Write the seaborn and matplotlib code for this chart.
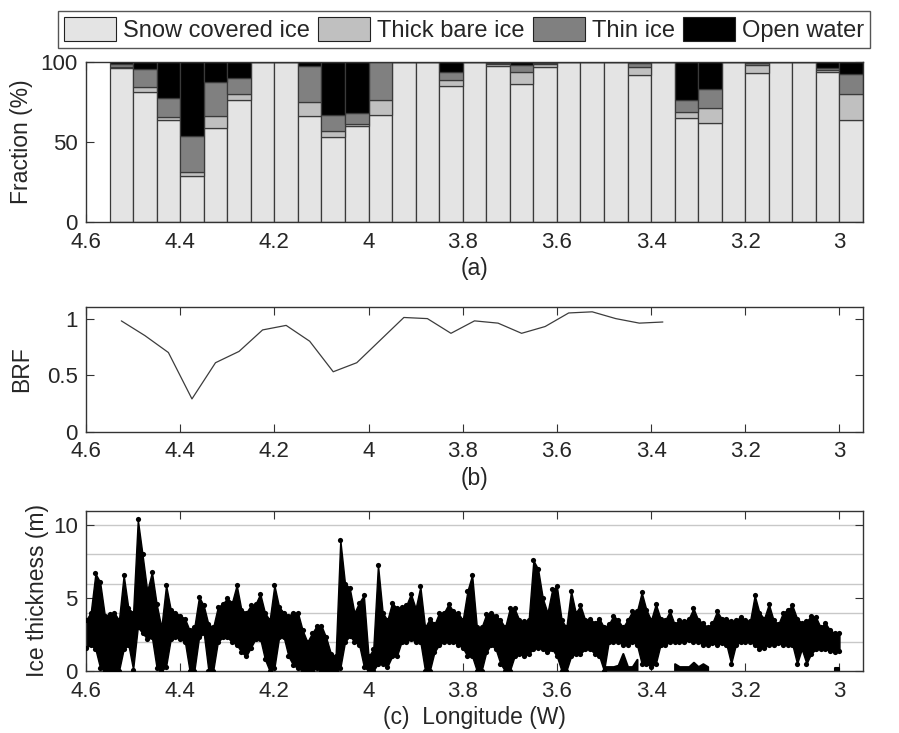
import numpy as np
import matplotlib
matplotlib.use("Agg")
import matplotlib.pyplot as plt
from matplotlib.patches import Patch
import seaborn as sns

# (a) surface type fraction (%) per 0.05 deg longitude bin
bar_lon = [4.525, 4.475, 4.425, 4.375, 4.325, 4.275, 4.225, 4.175,
           4.125, 4.075, 4.025, 3.975, 3.925, 3.875, 3.825, 3.775,
           3.725, 3.675, 3.625, 3.575, 3.525, 3.475, 3.425, 3.375,
           3.325, 3.275, 3.225, 3.175, 3.125, 3.075, 3.025, 2.975]
snow = [96, 81, 64, 29, 59, 76, 100, 100, 66, 53, 60, 67, 100, 100, 85, 100,
        97.5, 86, 97, 100, 100, 100, 92, 100, 65, 62, 100, 93, 100, 100, 94, 64]
thick = [1, 3.5, 1.5, 2, 7.5, 4, 0, 0, 9, 4, 1.5, 9, 0, 0, 3.5, 0,
         1, 7.5, 1.5, 0, 0, 0, 5, 0, 3.5, 9, 0, 5, 0, 0, 1, 16]
thin = [2, 11, 12, 23, 21, 10, 0, 0, 22.5, 10, 6.5, 24, 0, 0, 5.5, 0,
        1, 4.5, 1, 0, 0, 0, 2.5, 0, 8, 12, 0, 1.5, 0, 0, 1, 12.5]
water = [1, 4.5, 22.5, 46, 12.5, 10, 0, 0, 2.5, 33, 32, 0, 0, 0, 6, 0,
         0.5, 2, 0.5, 0, 0, 0, 0.5, 0, 23.5, 17, 0, 0.5, 0, 0, 4, 7.5]
classes = ["Snow covered ice", "Thick bare ice", "Thin ice", "Open water"]
class_colors = ["#e4e4e4", "#c0c0c0", "#808080", "#000000"]

# (b) BRF
brf_lon = bar_lon[:24]
brf = [0.98, 0.85, 0.70, 0.29, 0.61, 0.71, 0.90, 0.94, 0.80, 0.53, 0.61, 0.81,
       1.01, 1.00, 0.87, 0.98, 0.96, 0.87, 0.93, 1.05, 1.06, 1.00, 0.96, 0.97]

# (c) ice thickness band (upper / lower edge of point cloud), 0.01 deg steps 4.60 -> 3.00
ice_lon = np.round(np.arange(4.60, 2.995, -0.01), 2)
ice_hi = [3.5, 4.0, 6.7, 6.1, 3.8, 3.9, 4.0, 3.5, 6.6, 4.3, 4.0, 10.4, 8.0, 5.5, 6.8, 4.6,
          3.0, 5.9, 4.2, 4.0, 3.8, 3.6, 2.8, 3.0, 5.1, 4.5, 3.2, 3.0, 4.4, 4.6, 5.0, 4.7,
          5.9, 4.2, 4.0, 4.5, 4.6, 5.3, 4.0, 3.5, 5.9, 4.4, 4.0, 3.8, 4.0, 4.0, 2.8, 2.0,
          2.6, 3.1, 3.1, 2.3, 1.2, 1.0, 9.0, 6.0, 5.7,
          4.0, 4.7, 5.2, 1.0, 1.5, 7.3, 4.0, 3.5, 4.7, 4.3, 4.4, 4.5, 5.3, 4.3, 5.8, 3.0,
          3.6, 3.2, 4.0, 4.0, 4.6, 4.1, 4.0, 3.5, 5.5, 6.6, 3.0, 3.0, 3.9, 4.0, 3.8, 3.5,
          3.0, 4.3, 4.3, 3.5, 3.4, 3.5, 7.6, 7.0, 5.0, 4.0, 5.6, 5.8, 3.5, 3.0, 5.5, 4.0,
          4.5, 3.5, 3.6, 3.3, 3.6, 3.0, 3.2,
          3.8, 3.5, 3.0, 3.5, 4.1, 4.1, 5.4, 4.2, 3.5, 4.6, 3.6, 3.5, 4.1, 3.2, 3.5, 3.4,
          3.6, 4.3, 3.5, 3.3, 3.0, 3.3, 4.1, 3.6, 3.6, 3.4, 3.5, 3.7, 3.5, 3.4, 5.2, 4.0,
          3.6, 4.6, 3.5, 3.2, 4.0, 4.2, 4.5, 3.6, 3.3, 3.4, 3.8, 3.7, 3.0, 3.3, 2.8, 2.6, 2.6]
ice_lo = [1.6, 1.8, 1.5, 0.2, 0.0, 0.0, 0.0, 0.0, 1.5, 1.8, 0.1, 3.0, 2.6, 2.2, 2.3, 0.2,
          0.0, 0.3, 2.2, 2.3, 2.2, 2.0, 0.0, 0.0, 2.3, 2.6, 0.0, 0.0, 2.0, 2.3, 2.3, 2.0,
          1.8, 1.3, 1.0, 1.6, 2.2, 2.2, 0.8, 0.0, 0.2, 2.3, 2.3, 1.0, 0.4, 0.2, 0.0, 0.0,
          0.0, 0.2, 0.0, 0.0, 0.0, 0.0, 0.2, 2.0, 2.4,
          2.0, 1.8, 0.3, 0.0, 0.0, 0.5, 0.5, 0.3, 1.0, 1.0, 2.0, 2.0, 2.2, 2.0, 2.0, 0.0,
          0.0, 1.3, 1.8, 2.0, 2.0, 2.0, 1.8, 1.6, 1.0, 1.0, 0.0, 0.0, 1.3, 1.8, 1.5, 0.5,
          0.0, 0.0, 1.0, 1.2, 1.0, 1.2, 1.5, 1.6, 1.5, 1.3, 1.5, 1.0, 0.0, 0.0, 1.0, 1.2,
          1.2, 1.5, 1.5, 1.2, 1.0, 0.0, 2.0,
          2.0, 2.0, 1.8, 1.8, 2.0, 1.8, 0.5, 0.5, 0.3, 0.5, 1.8, 1.8, 2.0, 2.0, 2.0, 2.0,
          2.1, 2.0, 2.0, 1.8, 1.8, 1.9, 1.8, 1.9, 1.8, 0.5, 1.8, 2.0, 2.0, 2.0, 1.8, 1.5,
          1.6, 1.8, 1.8, 1.9, 1.8, 1.8, 1.8, 0.5, 1.5, 0.5, 1.2, 1.5, 1.5, 1.5, 1.4, 1.3, 1.4]
# second, lower track seen in places (open leads / thin ice)
low_lon = [3.50, 3.49, 3.48, 3.47, 3.46, 3.45, 3.44, 3.43,
           3.35, 3.34, 3.33, 3.32, 3.31, 3.30, 3.29, 3.28, 3.01, 3.00]
low_hi = [0.3, 0.3, 0.3, 0.4, 1.2, 0.3, 0.3, 0.8,
          0.5, 0.3, 0.3, 0.3, 0.6, 0.3, 0.5, 0.3, 0.2, 0.2]
low_seg = [0, 0, 0, 0, 0, 0, 0, 0, 1, 1, 1, 1, 1, 1, 1, 1, 2, 2]
grid_levels = [2, 4, 6, 8, 10]
lon_ticks = [4.6, 4.4, 4.2, 4.0, 3.8, 3.6, 3.4, 3.2, 3.0]

sns.set_style("ticks")
plt.rcParams["font.family"] = ["Liberation Sans", "DejaVu Sans"]
plt.rcParams["font.size"] = 16.5

fig = plt.figure(figsize=(8.99, 7.33), dpi=100)
ax_a = fig.add_axes([86 / 899, 1 - 222 / 733, 777 / 899, 160 / 733])
ax_b = fig.add_axes([86 / 899, 1 - 431.7 / 733, 777 / 899, 124.4 / 733])
ax_c = fig.add_axes([86 / 899, 1 - 671 / 733, 777 / 899, 160.3 / 733])

# --- (a) stacked bars
bottom = np.zeros(len(bar_lon))
for vals, col in zip([snow, thick, thin, water], class_colors):
    ax_a.bar(bar_lon, vals, width=0.05, bottom=bottom, color=col,
             edgecolor="#3a3a3a", linewidth=0.9)
    bottom += np.array(vals)
ax_a.set_ylim(0, 100)
ax_a.set_yticks([0, 50, 100])
ax_a.set_xlabel("(a)")
ax_a.set_ylabel("Fraction (%)")

# --- (b) BRF
sns.lineplot(x=brf_lon, y=brf, sort=False, color="#3c3c3c", linewidth=0.9, ax=ax_b)
ax_b.set_ylim(0, 1.1)
ax_b.set_yticks([0, 0.5, 1])
ax_b.set_yticklabels(["0", "0.5", "1"])
ax_b.set_xlabel("(b)")
ax_b.set_ylabel("BRF")

# --- (c) ice thickness
for g in grid_levels:
    ax_c.axhline(g, color="#c8c8c8", linewidth=1.0, zorder=0)
ax_c.fill_between(ice_lon, ice_lo, ice_hi, color="black",
                  edgecolor="black", linewidth=1.0, zorder=2)
sns.scatterplot(x=ice_lon, y=ice_hi, color="black", s=14, linewidth=0, ax=ax_c, zorder=3)
sns.scatterplot(x=ice_lon, y=ice_lo, color="black", s=14, linewidth=0, ax=ax_c, zorder=3)
low_lon_a = np.array(low_lon)
low_hi_a = np.array(low_hi)
for s in sorted(set(low_seg)):
    m = np.array(low_seg) == s
    ax_c.fill_between(low_lon_a[m], 0, low_hi_a[m], color="black",
                      linewidth=1.5, edgecolor="black", zorder=2)
ax_c.set_ylim(0, 11)
ax_c.set_yticks([0, 5, 10])
ax_c.set_xlabel("(c)  Longitude (W)")
ax_c.set_ylabel("Ice thickness (m)")

for ax in (ax_a, ax_b, ax_c):
    ax.set_xlim(4.6, 2.95)
    ax.set_xticks(lon_ticks)
    ax.set_xticklabels([f"{t:g}" for t in lon_ticks])
    ax.tick_params(direction="in", length=6, width=0.8, top=True, right=True,
                   labelsize=16, color="#333333")
    ax.tick_params(axis="x", pad=7)
    ax.tick_params(axis="y", pad=6)
    for sp in ax.spines.values():
        sp.set_visible(True)
        sp.set_color("#333333")
        sp.set_linewidth(1.0)
    ax.xaxis.labelpad = 3

ax_a.yaxis.set_label_coords(-0.068, 0.5)
ax_b.yaxis.set_label_coords(-0.068, 0.5)
ax_c.yaxis.set_label_coords(-0.048, 0.5)

handles = [Patch(facecolor=c, edgecolor="#222222", linewidth=0.8) for c in class_colors]
fig.legend(handles, classes, loc="upper left", bbox_to_anchor=(58 / 899, 1 - 11 / 733),
           ncol=4, frameon=True, fancybox=False, edgecolor="#555555", framealpha=1,
           handlelength=2.2, handleheight=1.2, columnspacing=0.35, handletextpad=0.3,
           borderpad=0.25, borderaxespad=0, fontsize=17)

fig.savefig("out.png", dpi=100)
